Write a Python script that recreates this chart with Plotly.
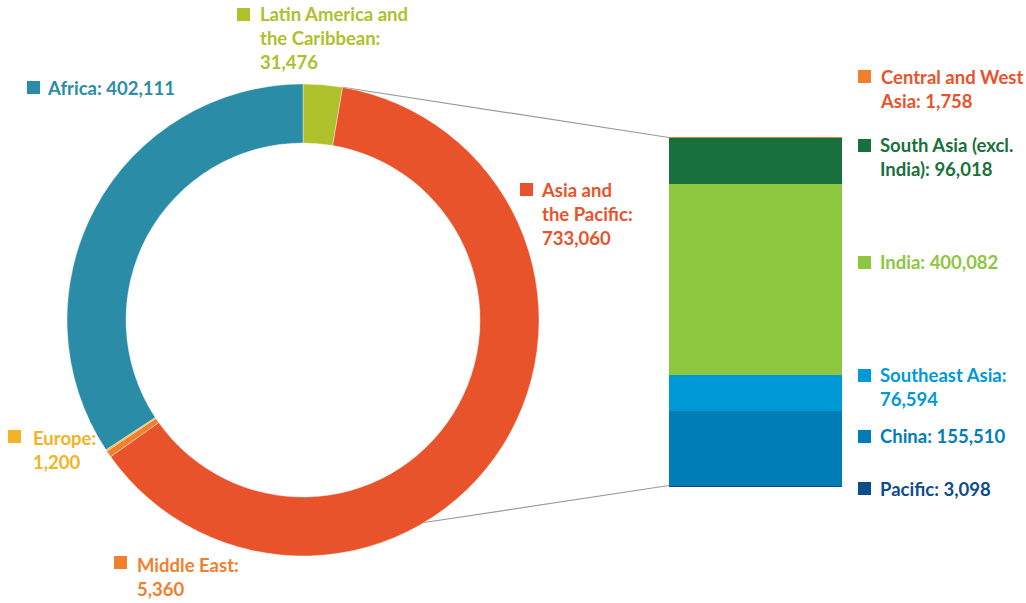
import plotly.graph_objects as go

# ---- data ----
region_names = ["Latin America and the Caribbean", "Asia and the Pacific", "Middle East", "Europe", "Africa"]
region_values = [31476, 733060, 5360, 1200, 402111]
region_colors = ["#AEC02A", "#E9532B", "#F07F2E", "#F2B324", "#2A8CA6"]

# Asia and the Pacific breakdown (bottom to top of the stacked bar)
sub_names = ["Pacific", "China", "Southeast Asia", "India", "South Asia (excl. India)", "Central and West Asia"]
sub_values = [3098, 155510, 76594, 400082, 96018, 1758]
sub_colors = ["#0D4C8A", "#007DB6", "#0099D8", "#8DC63F", "#18703C", "#F07F2E"]

W, H = 1026, 603
def px(x):
    return x / W
def py(y):
    return 1 - y / H

FONT = "Lato"
FS = 18.5

fig = go.Figure()

# donut
fig.add_trace(go.Pie(
    labels=region_names, values=region_values,
    marker=dict(colors=region_colors, line=dict(color="white", width=0.4)),
    hole=0.75, sort=False, direction="clockwise", rotation=0,
    textinfo="none", hoverinfo="label+value", showlegend=False,
    domain=dict(x=[px(67), px(539)], y=[py(556), py(84)]),
))

# stacked bar
for n, v, c in zip(sub_names, sub_values, sub_colors):
    fig.add_trace(go.Bar(
        x=[0], y=[v], name=n, width=1, marker=dict(color=c, line=dict(width=0)),
        xaxis="x2", yaxis="y2", showlegend=False,
    ))

asia_total = sum(sub_values)
fig.update_layout(
    width=W, height=H, margin=dict(l=0, r=0, t=0, b=0),
    paper_bgcolor="white", plot_bgcolor="rgba(0,0,0,0)",
    barmode="stack",
    xaxis2=dict(domain=[px(669), px(842)], range=[-0.5, 0.5], visible=False, fixedrange=True),
    yaxis2=dict(domain=[py(487), py(137)], range=[0, asia_total], visible=False, fixedrange=True),
    xaxis=dict(visible=False), yaxis=dict(visible=False),
)

# connector lines
line_style = dict(color="#9A9A9A", width=1.2)
fig.add_shape(type="line", xref="paper", yref="paper", x0=px(341), y0=py(87), x1=px(669), y1=py(137.5), line=line_style, layer="below")
fig.add_shape(type="line", xref="paper", yref="paper", x0=px(421), y0=py(523), x1=px(669), y1=py(485.5), line=line_style, layer="below")

def fmt(v):
    return f"{v:,}"

# labels: (marker x, marker top y, text x, text top y, text, marker colour, text colour)
labels = [
    (237, 8, 258, 1, f"Latin America and<br>the Caribbean:<br>{fmt(region_values[0])}", region_colors[0], region_colors[0]),
    (27, 81, 45, 75, f"Africa: {fmt(region_values[4])}", region_colors[4], region_colors[4]),
    (520, 183, 539, 177, f"Asia and<br>the Pacific:<br>{fmt(region_values[1])}", region_colors[1], region_colors[1]),
    (8, 430, 31, 425, f"Europe:<br>{fmt(region_values[3])}", region_colors[3], region_colors[3]),
    (114, 556, 135, 552, f"Middle East:<br>{fmt(region_values[2])}", region_colors[2], region_colors[2]),
    (858, 70, 878, 64, f"Central and West<br>Asia: {fmt(sub_values[5])}", sub_colors[5], "#E9532B"),
    (858, 139, 878, 132, f"South Asia (excl.<br>India): {fmt(sub_values[4])}", sub_colors[4], sub_colors[4]),
    (858, 256, 878, 249, f"India: {fmt(sub_values[3])}", sub_colors[3], sub_colors[3]),
    (858, 369, 878, 362, f"Southeast Asia:<br>{fmt(sub_values[2])}", sub_colors[2], sub_colors[2]),
    (858, 430, 878, 423, f"China: {fmt(sub_values[1])}", sub_colors[1], sub_colors[1]),
    (858, 482, 878, 476, f"Pacific: {fmt(sub_values[0])}", sub_colors[0], sub_colors[0]),
]
for mx, my, tx, ty, text, mc, tc in labels:
    fig.add_shape(type="rect", xref="paper", yref="paper",
                  x0=px(mx), x1=px(mx + 13), y0=py(my + 13), y1=py(my),
                  fillcolor=mc, line=dict(width=0))
    fig.add_annotation(xref="paper", yref="paper", x=px(tx), y=py(ty),
                       xanchor="left", yanchor="top", align="left", showarrow=False,
                       text=f"<b>{text}</b>", font=dict(family=FONT, size=FS, color=tc))

fig.write_html(
    "out.html",
    config={"displayModeBar": False},
    post_script="document.body.style.margin='0';document.body.style.overflow='hidden';",
)
